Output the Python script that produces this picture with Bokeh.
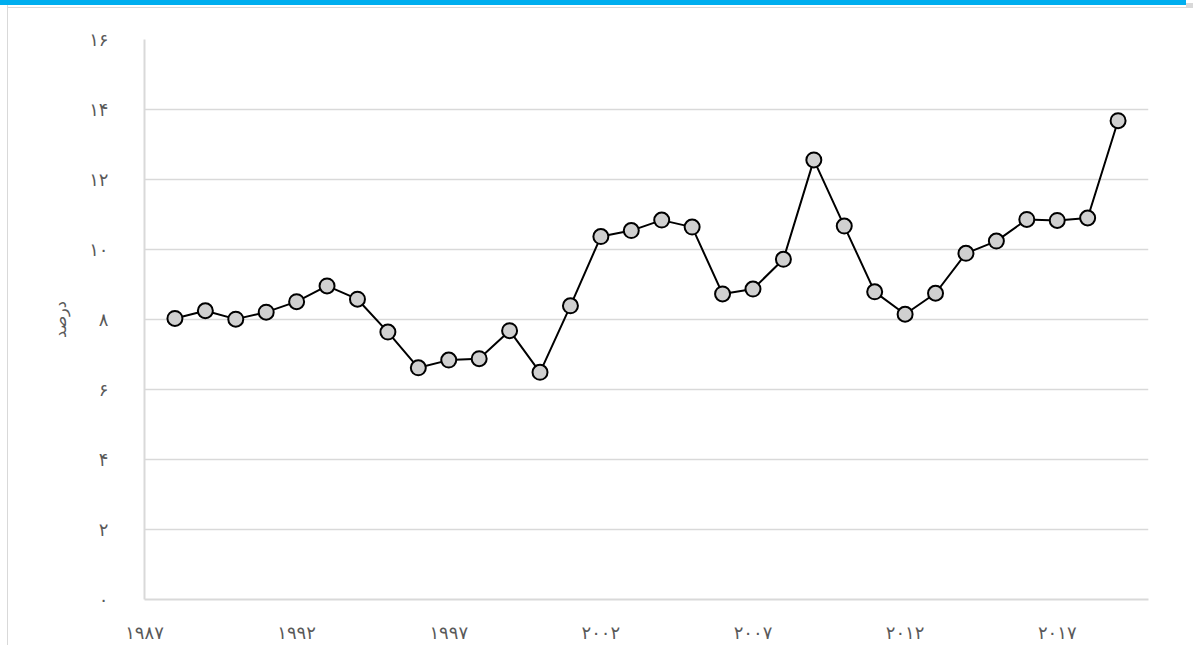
from bokeh.plotting import figure
from bokeh.models import FixedTicker, Range1d, ColumnDataSource, Div
from bokeh.layouts import column
from bokeh.embed import file_html
from bokeh.resources import INLINE

years = list(range(1988, 2020))
values = [8.03, 8.25, 8.01, 8.21, 8.51, 8.96, 8.58, 7.64, 6.62, 6.84,
          6.88, 7.68, 6.49, 8.39, 10.37, 10.54, 10.84, 10.64, 8.73, 8.87,
          9.72, 12.56, 10.67, 8.79, 8.15, 8.75, 9.89, 10.24, 10.86, 10.83,
          10.90, 13.68]
x_ticks = [1987, 1992, 1997, 2002, 2007, 2012, 2017]
y_ticks = [0, 2, 4, 6, 8, 10, 12, 14, 16]
y_label = "درصد"

FA = "۰۱۲۳۴۵۶۷۸۹"
def fa(n):
    return "".join(FA[int(c)] for c in str(n))

src = ColumnDataSource(dict(x=years, y=values))

bar = Div(text="", width=1186, height=5, margin=0,
          styles={"background-color": "#00AEEF",
                  "box-shadow": "0 2px 0 #ffffff, 7px 3px 0 #d9d9d9"})

p = figure(width=1186, height=640, output_backend="svg", toolbar_location=None,
           x_range=Range1d(1987, 2020), y_range=Range1d(0, 16),
           min_border_left=144, min_border_top=34, min_border_right=38,
           min_border_bottom=45, margin=0)
p.styles = {"box-shadow": "inset 7px 0 0 #ffffff, inset 8px 0 0 #d9d9d9"}
p.outline_line_color = None
p.background_fill_color = "white"
p.border_fill_color = None

p.line("x", "y", source=src, line_color="black", line_width=2)
p.scatter("x", "y", source=src, size=15, fill_color="#d0d0d0",
          line_color="black", line_width=2)

p.xaxis.ticker = FixedTicker(ticks=x_ticks)
p.yaxis.ticker = FixedTicker(ticks=y_ticks)
p.xaxis.major_label_overrides = {t: fa(t) for t in x_ticks}
p.yaxis.major_label_overrides = {t: fa(t) for t in y_ticks}

for ax in (p.xaxis, p.yaxis):
    ax.axis_line_color = "#d9d9d9"
    ax.axis_line_width = 2
    ax.major_tick_line_color = None
    ax.minor_tick_line_color = None
    ax.major_tick_out = 0
    ax.major_tick_in = 0
    ax.minor_tick_out = 0
    ax.minor_tick_in = 0
    ax.major_label_text_font = "DejaVu Sans"
    ax.major_label_text_font_size = "18px"
    ax.major_label_text_color = "#595959"

p.xaxis.major_label_standoff = 22
p.yaxis.major_label_standoff = 36
p.yaxis.axis_label = y_label
p.yaxis.axis_label_text_font = "DejaVu Sans"
p.yaxis.axis_label_text_font_size = "16px"
p.yaxis.axis_label_text_font_style = "normal"
p.yaxis.axis_label_text_color = "#595959"
p.yaxis.axis_label_standoff = 16

p.xgrid.grid_line_color = None
p.ygrid.grid_line_color = "#d9d9d9"
p.ygrid.grid_line_width = 1.5

layout = column(bar, p, spacing=0, margin=0)
open("out.html", "w").write(file_html(layout, INLINE))
